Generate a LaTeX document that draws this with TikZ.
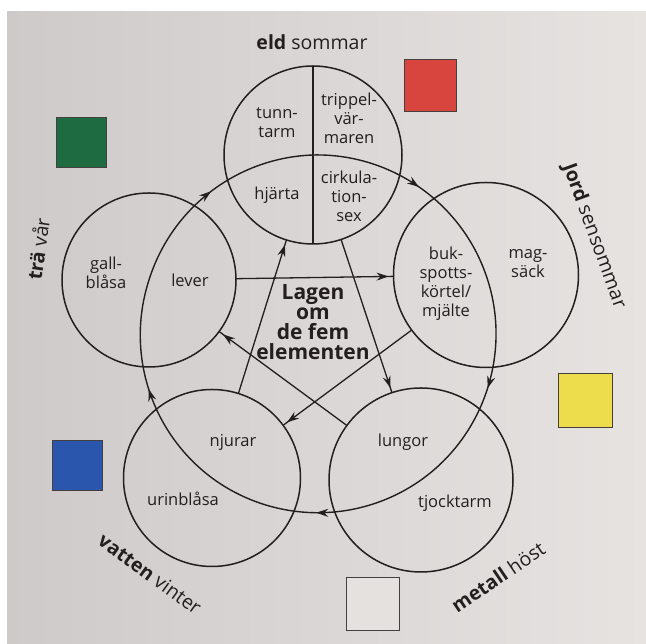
\documentclass[tikz,border=0pt]{standalone}
\usepackage{fontspec}
\setmainfont{Open Sans}
\usetikzlibrary{arrows.meta,decorations.markings}
\definecolor{ink}{HTML}{241E1D}
\definecolor{pageL}{HTML}{CFCACA}
\definecolor{pageR}{HTML}{E6E3E1}
\definecolor{sqgreen}{HTML}{1F6B41}
\definecolor{sqred}{HTML}{D8453E}
\definecolor{sqyellow}{HTML}{EDDC4B}
\definecolor{sqblue}{HTML}{2B56AE}
\definecolor{sqwhite}{HTML}{E4E1DF}
\begin{document}
\begin{tikzpicture}[x=1pt,y=1pt,
  elem/.style={circle, draw=ink, line width=1.5pt, minimum size=#1, inner sep=0pt, outer sep=0pt},
  lbl/.style={text=ink, font=\fontsize{16.5}{19}\selectfont, align=center, inner sep=0pt},
  ctrlbl/.style={text=ink, font=\bfseries\fontsize{21}{20}\selectfont, align=center, inner sep=0pt},
  elab/.style={text=ink, font=\fontsize{19.5}{22}\selectfont, inner sep=0pt},
  cyc/.style={draw=ink, line width=1.4pt, bend left=#1, looseness=0.94,
    postaction={decorate},
    decoration={markings, mark=at position 0.5 with {\arrow{Stealth[length=12pt,width=8pt,inset=4pt]}}}},
  ctl/.style={draw=ink, line width=1.3pt,
    postaction={decorate},
    decoration={markings, mark=at position -5pt with {\arrow{Stealth[length=12pt,width=8pt,inset=4pt]}}}},
  sq/.style={draw=ink!85, line width=0.8pt, minimum size=#1, inner sep=0pt},
]
\useasboundingbox (0,0) rectangle (646,644);
\fill[white] (0,0) rectangle (646,644);
\shade[left color=pageL, right color=pageR] (7,0) rectangle (646,632);

% element circles
\node[elem=178pt] (eld) at (313,489) {};
\node[elem=174pt] (tra) at (149,364) {};
\node[elem=185pt] (jord) at (486,369) {};
\node[elem=177pt] (vatten) at (212,166) {};
\node[elem=184pt] (metall) at (421,164) {};

\draw[ink, line width=1.4pt] (eld.north) -- (eld.south);

% generating cycle
\draw[cyc=35.35] (tra.center) to (eld.center);
\draw[cyc=36.15] (eld.center) to (jord.center);
\draw[cyc=37.05] (jord.center) to (metall.center);
\draw[cyc=35.8] (metall.center) to (vatten.center);
\draw[cyc=35.65] (vatten.center) to (tra.center);

% control star
\draw[ctl] (tra) -- (jord);
\draw[ctl] (jord) -- (vatten);
\draw[ctl] (vatten) -- (eld);
\draw[ctl] (eld) -- (metall);
\draw[ctl] (metall) -- (tra);

% organ texts
\node[lbl] (tunntarm) at (277,521) {tunn-\\tarm};
\node[lbl] (trippel) at (349,526) {trippel-\\vär-\\maren};
\node[lbl] (hjarta) at (277,449) {hjärta};
\node[lbl] (cirk) at (349,448) {cirkula-\\tion-\\sex};
\node[lbl] (gall) at (106,371) {gall-\\blåsa};
\node[lbl] (lever) at (190,364) {lever};
\node[lbl] (buk) at (446,360) {buk-\\spotts-\\körtel/\\mjälte};
\node[lbl] (mag) at (528,380) {mag-\\säck};
\node[lbl] (njurar) at (233,202) {njurar};
\node[lbl] (urin) at (183,145) {urinblåsa};
\node[lbl] (lungor) at (403,202) {lungor};
\node[lbl] (tjock) at (455,141) {tjocktarm};
\node[ctrlbl] (center) at (313,322) {Lagen\\om\\de fem\\elementen};

% element labels
\node[elab] (leld) at (312,602) {\textbf{eld} sommar};
\node[elab, rotate=-70] (ljord) at (594,408) {\textbf{Jord} sensommar};
\node[elab, rotate=82] (ltra) at (38,395) {\textbf{trä} vår};
\node[elab, rotate=-36] (lvatten) at (150,70) {\textbf{vatten} vinter};
\node[elab, rotate=34] (lmetall) at (498,67) {\textbf{metall} höst};

% colour squares
\node[sq=50pt, fill=sqgreen] (sqtra) at (81.5,501.5) {};
\node[sq=52pt, fill=sqred] (sqeld) at (430.5,559) {};
\node[sq=54pt, fill=sqyellow] (sqjord) at (585.5,244) {};
\node[sq=50pt, fill=sqblue] (sqvatten) at (77.5,179) {};
\node[sq=53pt, fill=sqwhite] (sqmetall) at (372.5,40) {};
\end{tikzpicture}
\end{document}
